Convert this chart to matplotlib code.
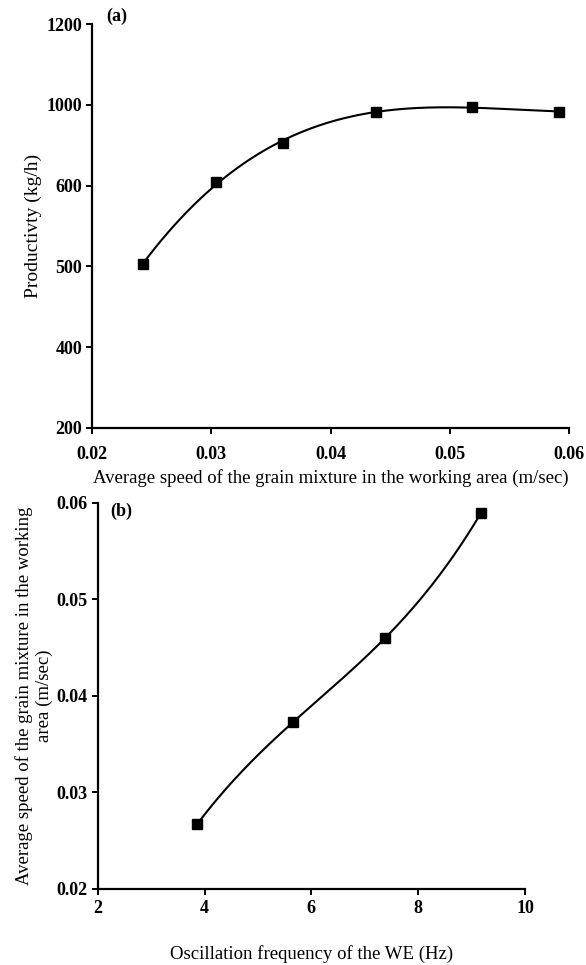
import matplotlib
matplotlib.use('Agg')
import matplotlib.pyplot as plt
import numpy as np

plt.rcParams['font.family'] = ['Liberation Serif', 'DejaVu Serif']

# (a) productivity vs speed
speed_a = [0.0243, 0.0304, 0.0360, 0.0438, 0.0519, 0.0592]
productivity = [606, 810, 905, 983, 995, 983]
yticks_a = [200, 400, 600, 800, 1000, 1200]
yticklabels_a = ['200', '400', '500', '600', '1000', '1200']  # as printed in the original
xticks_a = [0.02, 0.03, 0.04, 0.05, 0.06]

# (b) speed vs oscillation frequency
freq = [3.86, 5.66, 7.38, 9.18]
speed_b = [0.0267, 0.0373, 0.0460, 0.0590]
xticks_b = [2, 4, 6, 8, 10]
yticks_b = [0.02, 0.03, 0.04, 0.05, 0.06]

fig = plt.figure(figsize=(5.86, 9.65), dpi=100)

def style(ax, xpad):
    ax.spines['top'].set_visible(False)
    ax.spines['right'].set_visible(False)
    for s in ['left', 'bottom']:
        ax.spines[s].set_linewidth(1.6)
    ax.tick_params(direction='out', length=4, width=1.4, labelsize=13)
    ax.tick_params(axis='y', pad=3)
    ax.tick_params(axis='x', pad=xpad)
    for lab in ax.get_xticklabels() + ax.get_yticklabels():
        lab.set_fontweight('bold')

ax1 = fig.add_axes([0.157, 0.5565, 0.814, 0.4185])
c = np.polyfit(speed_a, productivity, 3)
xs = np.linspace(min(speed_a), max(speed_a), 200)
ax1.plot(xs, np.polyval(c, xs), color='black', lw=1.5)
ax1.plot(speed_a, productivity, 's', color='black', ms=7)
ax1.set_xlim(0.02, 0.06)
ax1.set_ylim(200, 1200)
ax1.set_xticks(xticks_a)
ax1.set_xticklabels([f'{v:.2f}' for v in xticks_a])
ax1.set_yticks(yticks_a)
ax1.set_yticklabels(yticklabels_a)
ax1.set_xlabel('Average speed of the grain mixture in the working area (m/sec)', fontsize=13.5, labelpad=4)
ax1.set_ylabel('Productivty (kg/h)', fontsize=14, labelpad=3)
ax1.text(0.03, 1.02, '(a)', transform=ax1.transAxes, fontsize=13, fontweight='bold', va='center')
style(ax1, 9)

ax2 = fig.add_axes([0.1667, 0.0788, 0.7292, 0.4])
c2 = np.polyfit(freq, speed_b, 3)
fs = np.linspace(min(freq), max(freq), 200)
ax2.plot(fs, np.polyval(c2, fs), color='black', lw=1.5)
ax2.plot(freq, speed_b, 's', color='black', ms=7)
ax2.set_xlim(2, 10)
ax2.set_ylim(0.02, 0.06)
ax2.set_xticks(xticks_b)
ax2.set_yticks(yticks_b)
ax2.set_yticklabels([f'{v:.2f}' for v in yticks_b])
ax2.set_xlabel('Oscillation frequency of the WE (Hz)', fontsize=13.5, labelpad=20)
ax2.set_ylabel('Average speed of the grain mixture in the working\narea (m/sec)', fontsize=13.5, labelpad=3)
ax2.text(0.03, 0.977, '(b)', transform=ax2.transAxes, fontsize=13, fontweight='bold', va='center')
style(ax2, 4)

fig.savefig('out.png', dpi=100)
